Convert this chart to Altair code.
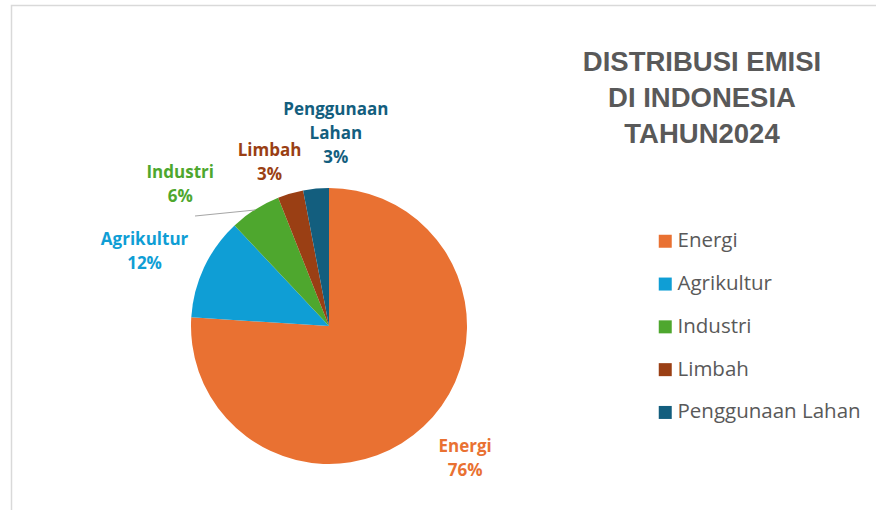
import math
import altair as alt
import pandas as pd

# ---- data ----
categories = ["Energi", "Agrikultur", "Industri", "Limbah", "Penggunaan Lahan"]
shares = [76, 12, 6, 3, 3]
pct_labels = ["76%", "12%", "6%", "3%", "3%"]
name_labels = ["Energi", "Agrikultur", "Industri", "Limbah", "Penggunaan\nLahan"]
colors = ["#E97132", "#0F9ED5", "#4EA72E", "#9A3F14", "#135E7E"]
title_lines = ["DISTRIBUSI EMISI", "DI INDONESIA", "TAHUN2024"]

starts, ends, mids = [], [], []
acc = 0
for s in shares:
    starts.append(acc)
    ends.append(acc + s)
    mids.append(acc + s / 2)
    acc += s

df = pd.DataFrame({
    "category": categories,
    "share": shares,
    "start": starts,
    "end": ends,
    "mid": mids,
    "label": [n + "\n" + p for n, p in zip(name_labels, pct_labels)],
})

W, H = 876, 510
CX, CY, R = 329, 326, 138
theta_scale = alt.Scale(domain=[0, sum(shares)], range=[0, 2 * math.pi])
color_scale = alt.Scale(domain=categories, range=colors)

base = alt.Chart(df)
one = alt.Chart(pd.DataFrame({"k": [0]}))

frame = one.mark_rect(fillOpacity=0, stroke="#D9D9D9", strokeWidth=1.5).encode(
    x=alt.value(11.5), y=alt.value(5.5), x2=alt.value(W + 20), y2=alt.value(H + 20)
)

arcs = base.mark_arc(outerRadius=R, stroke=None).encode(
    theta=alt.Theta("start:Q", scale=theta_scale, stack=None),
    theta2="end:Q",
    color=alt.Color(
        "category:N",
        scale=color_scale,
        sort=categories,
        legend=alt.Legend(
            orient="none",
            legendX=655,
            legendY=231,
            title=None,
            symbolType="square",
            symbolSize=169,
            symbolStrokeWidth=0,
            labelFontSize=20.5,
            labelFont="Open Sans",
            labelColor="#595959",
            labelLimit=0,
            rowPadding=21.8,
            labelOffset=2,
        ),
    ),
    x=alt.value(CX),
    y=alt.value(CY),
)

LH = 24
# label style: radius, dx, dy (dy includes shift for multi-line block centring)
label_style = {
    "Energi": (190, 6, -6 - LH / 2),
    "Agrikultur": (195, -8, 9.5 - LH / 2),
    "Industri": (190, -47, 19 - LH / 2),
    "Limbah": (170, -12, 0 - LH / 2),
    "Penggunaan Lahan": (193, 25, 0 - LH),
}

layers = [frame, arcs]

leader = one.mark_rule(color="#A6A6A6", strokeWidth=1.2).encode(
    x=alt.value(195), y=alt.value(216), x2=alt.value(255), y2=alt.value(210)
)
layers.append(leader)

for cat, col in zip(categories, colors):
    r, dx, dy = label_style[cat]
    t = base.transform_filter(alt.datum.category == cat).mark_text(
        radius=r, dx=dx, dy=dy, lineBreak="\n", fontSize=17, fontWeight="bold",
        font="Open Sans", lineHeight=LH, align="center", baseline="middle", color=col,
    ).encode(
        theta=alt.Theta("mid:Q", scale=theta_scale, stack=None),
        text="label:N",
        x=alt.value(CX),
        y=alt.value(CY),
    )
    layers.append(t)

title = one.mark_text(
    font="Liberation Sans", fontSize=27.5, fontWeight="bold", color="#595959",
    lineBreak="\n", lineHeight=36, align="center", baseline="middle",
).encode(x=alt.value(702), y=alt.value(62.5), text=alt.value("\n".join(title_lines)))
layers.append(title)

chart = alt.layer(*layers).properties(
    width=W, height=H, padding=0, autosize=alt.AutoSizeParams(type="none"), background="white"
).configure_view(stroke=None)

chart.save("out.html", embed_options={"renderer": "svg", "actions": False})
